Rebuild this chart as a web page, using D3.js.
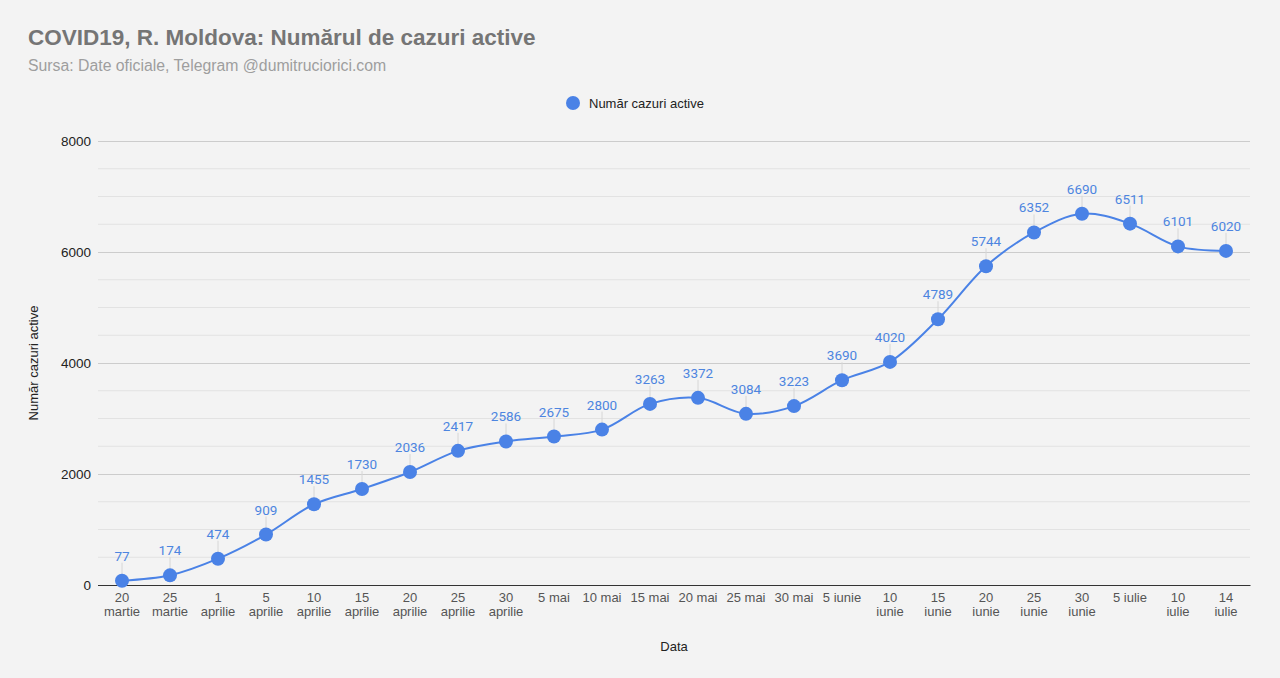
<!DOCTYPE html>
<html>
<head>
<meta charset="utf-8">
<script src="https://cdn.jsdelivr.net/npm/d3@7"></script>
<style>
  html, body { margin: 0; padding: 0; background: #f3f3f3; }
  svg { display: block; }
</style>
</head>
<body>
<div id="chart"></div>
<script>
const WIDTH = 1280
const HEIGHT = 678
const MARGIN = { top: 141, right: 30, bottom: 93, left: 98 }

// date labels (two lines where the original wraps)
const dateLabels = [
  ['20', 'martie'], ['25', 'martie'], ['1', 'aprilie'], ['5', 'aprilie'],
  ['10', 'aprilie'], ['15', 'aprilie'], ['20', 'aprilie'], ['25', 'aprilie'],
  ['30', 'aprilie'], ['5 mai'], ['10 mai'], ['15 mai'], ['20 mai'], ['25 mai'],
  ['30 mai'], ['5 iunie'], ['10', 'iunie'], ['15', 'iunie'], ['20', 'iunie'],
  ['25', 'iunie'], ['30', 'iunie'], ['5 iulie'], ['10', 'iulie'], ['14', 'iulie']
]
const activeCases = [77, 174, 474, 909, 1455, 1730, 2036, 2417, 2586, 2675, 2800,
  3263, 3372, 3084, 3223, 3690, 4020, 4789, 5744, 6352, 6690, 6511, 6101, 6020]
const yTicks = [0, 2000, 4000, 6000, 8000]
const yMinorTicks = d3.range(0, 8001, 500)

const LINE_COLOR = '#4a82e6'
const LABEL_COLOR = '#4d85e0'

const data = dateLabels.map((d, i) => ({ key: i, label: d, value: activeCases[i] }))

const innerW = WIDTH - MARGIN.left - MARGIN.right
const innerH = HEIGHT - MARGIN.top - MARGIN.bottom

const svg = d3.select('#chart').append('svg')
  .attr('width', WIDTH)
  .attr('height', HEIGHT)
  .style('font-family', 'Arial, "Liberation Sans", sans-serif')

svg.append('rect').attr('width', WIDTH).attr('height', HEIGHT).attr('fill', '#f3f3f3')

// title + subtitle
svg.append('text')
  .attr('x', 28).attr('y', 45)
  .attr('font-size', 22.5).attr('font-weight', 'bold').attr('fill', '#757575')
  .text('COVID19, R. Moldova: Numărul de cazuri active')
svg.append('text')
  .attr('x', 28).attr('y', 71)
  .attr('font-size', 15.8).attr('fill', '#9e9e9e')
  .text('Sursa: Date oficiale, Telegram @dumitruciorici.com')

// legend
const legend = svg.append('g').attr('transform', 'translate(573,103)')
legend.append('circle').attr('r', 7).attr('fill', LINE_COLOR)
legend.append('text').attr('x', 16).attr('y', 4.5)
  .attr('font-size', 13).attr('fill', '#222')
  .text('Număr cazuri active')

const g = svg.append('g').attr('transform', `translate(${MARGIN.left},${MARGIN.top})`)

const x = d3.scaleBand().domain(data.map(d => d.key)).range([0, innerW])
const y = d3.scaleLinear().domain([0, 8000]).range([innerH, 0])
const cx = k => x(k) + x.bandwidth() / 2

// minor grid
g.append('g')
  .selectAll('line')
  .data(yMinorTicks.filter(v => !yTicks.includes(v)))
  .enter().append('line')
  .attr('x1', 0).attr('x2', innerW)
  .attr('y1', d => y(d)).attr('y2', d => y(d))
  .attr('stroke', '#e2e2e2').attr('stroke-width', 1)

// major grid + labels
const yAxis = d3.axisLeft(y).tickValues(yTicks).tickFormat(d3.format('d')).tickSize(-innerW).tickPadding(7)
g.append('g')
  .call(yAxis)
  .call(a => a.select('.domain').remove())
  .call(a => a.selectAll('.tick line').attr('stroke', d => d === 0 ? '#333' : '#cccccc'))
  .call(a => a.selectAll('.tick text')
    .attr('font-size', 13.5).attr('fill', '#222')
    .attr('font-family', 'Arial, "Liberation Sans", sans-serif'))

// x labels
const xAxis = d3.axisBottom(x).tickSize(0).tickFormat('')
const xg = g.append('g').attr('transform', `translate(0,${innerH})`).call(xAxis)
xg.select('.domain').attr('stroke', '#333')
xg.selectAll('.tick').each(function (k) {
  const t = d3.select(this).append('text')
    .attr('fill', '#555').attr('font-size', 13)
    .attr('text-anchor', 'middle')
  data[k].label.forEach((s, i) => {
    t.append('tspan').attr('x', 0).attr('y', 17 + i * 14).text(s)
  })
})

// axis titles
svg.append('text')
  .attr('transform', `translate(38,${MARGIN.top + innerH / 2}) rotate(-90)`)
  .attr('text-anchor', 'middle')
  .attr('font-size', 13).attr('fill', '#222')
  .text('Număr cazuri active')
svg.append('text')
  .attr('x', MARGIN.left + innerW / 2).attr('y', 651)
  .attr('text-anchor', 'middle')
  .attr('font-size', 13).attr('fill', '#222')
  .text('Data')

// leader lines for labels
g.append('g')
  .selectAll('line')
  .data(data)
  .enter().append('line')
  .attr('x1', d => cx(d.key)).attr('x2', d => cx(d.key))
  .attr('y1', d => y(d.value) - 6).attr('y2', d => y(d.value) - 18)
  .attr('stroke', '#d6d6d6').attr('stroke-width', 1)

// line
g.append('path')
  .datum(data)
  .attr('fill', 'none')
  .attr('stroke', LINE_COLOR)
  .attr('stroke-width', 2)
  .attr('d', d3.line()
    .x(d => cx(d.key))
    .y(d => y(d.value))
    .curve(d3.curveCatmullRom.alpha(0.5)))

// points
g.append('g')
  .selectAll('circle')
  .data(data)
  .enter().append('circle')
  .attr('cx', d => cx(d.key))
  .attr('cy', d => y(d.value))
  .attr('r', 7)
  .attr('fill', LINE_COLOR)

// value labels
g.append('g')
  .selectAll('text')
  .data(data)
  .enter().append('text')
  .attr('x', d => cx(d.key))
  .attr('y', d => y(d.value) - 20)
  .attr('text-anchor', 'middle')
  .attr('font-family', 'Roboto, sans-serif')
  .attr('font-size', 13.5)
  .attr('fill', LABEL_COLOR)
  .text(d => d.value)
</script>
</body>
</html>
